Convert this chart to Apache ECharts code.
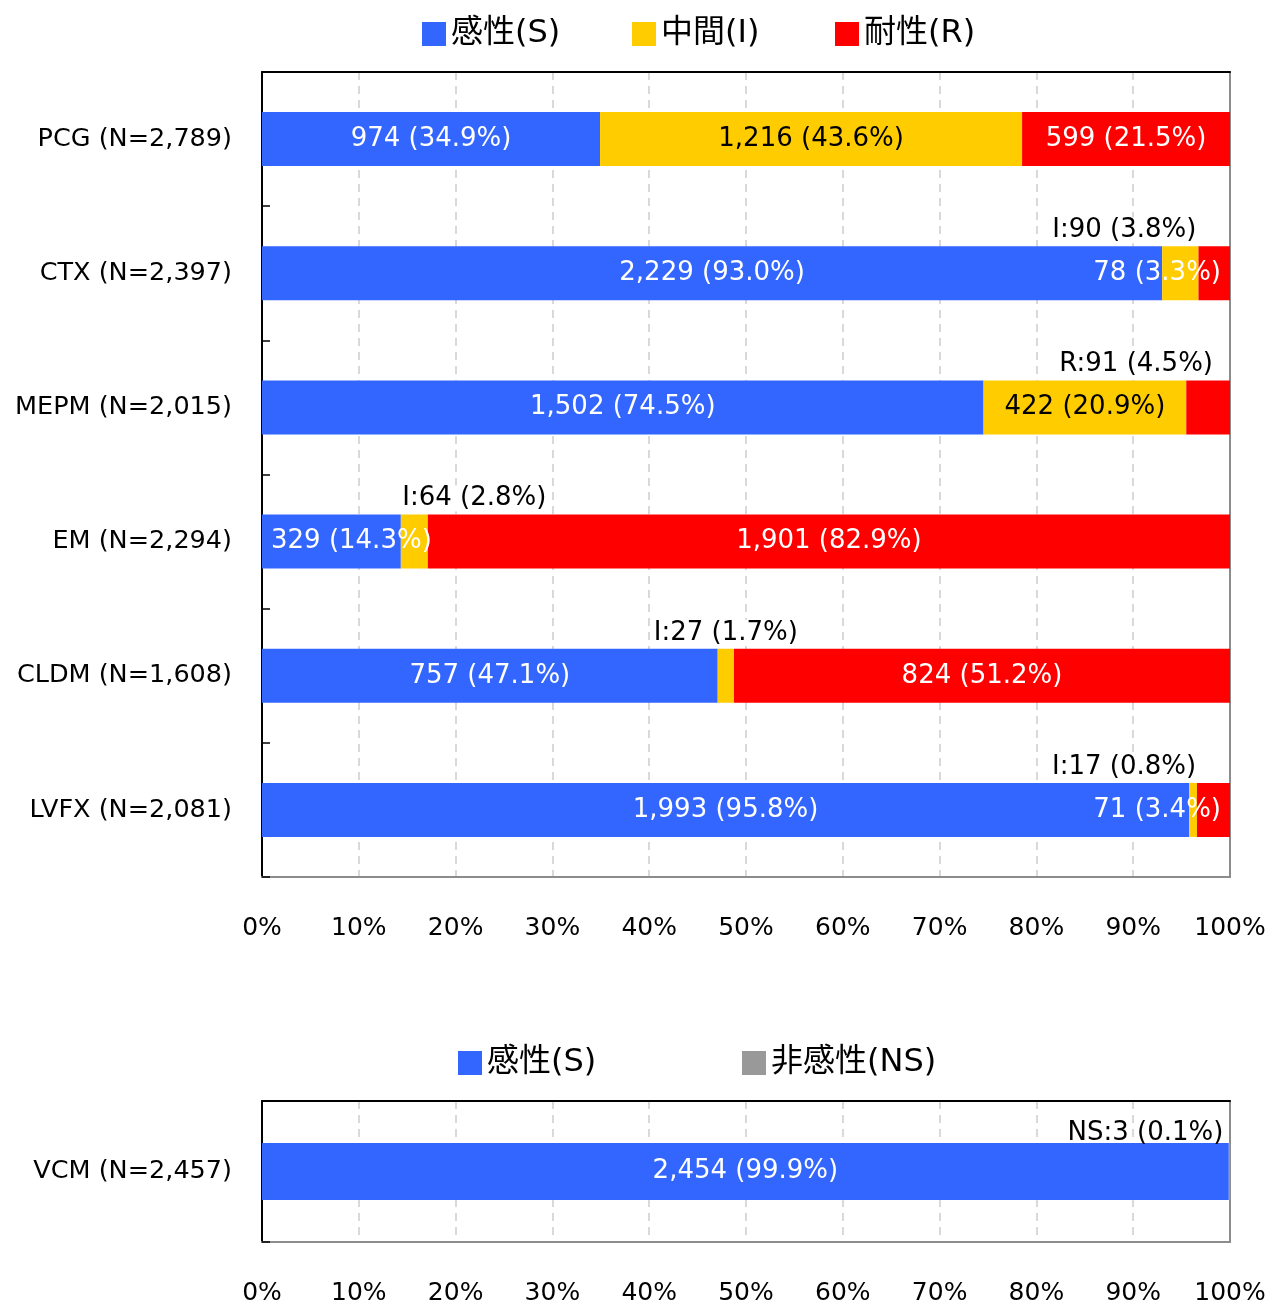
<!DOCTYPE html>
<html>
<head>
<meta charset="utf-8">
<script src="https://cdn.jsdelivr.net/npm/echarts@6/dist/echarts.min.js"></script>
<style>
html,body{margin:0;padding:0;background:#fff;}
#chart{width:1271px;height:1306px;}
</style>
</head>
<body>
<div id="chart"></div>
<script>
// ---- data ----
const categoriesTop = ['PCG (N=2,789)', 'CTX (N=2,397)', 'MEPM (N=2,015)', 'EM (N=2,294)', 'CLDM (N=1,608)', 'LVFX (N=2,081)'];
const totalsTop = [2789, 2397, 2015, 2294, 1608, 2081];
const sCounts = [974, 2229, 1502, 329, 757, 1993];
const sPcts   = [34.9, 93.0, 74.5, 14.3, 47.1, 95.8];
const iCounts = [1216, 90, 422, 64, 27, 17];
const iPcts   = [43.6, 3.8, 20.9, 2.8, 1.7, 0.8];
const rCounts = [599, 78, 91, 1901, 824, 71];
const rPcts   = [21.5, 3.3, 4.5, 82.9, 51.2, 3.4];

const categoriesBottom = ['VCM (N=2,457)'];
const totalsBottom = [2457];
const vcmSCounts = [2454];
const vcmSPcts = [99.9];
const vcmNSCounts = [3];
const vcmNSPcts = [0.1];

const xTickValues = [0, 10, 20, 30, 40, 50, 60, 70, 80, 90, 100];
const seriesNames = { S: '感性(S)', I: '中間(I)', R: '耐性(R)', NS: '非感性(NS)' };
const prefixes = { I: 'I:', R: 'R:', NS: 'NS:' };

// ---- styles / placement (not data) ----
const FONT = "'DejaVu Sans', 'Noto Sans CJK JP', sans-serif";
const COLORS = { S: '#3366FF', I: '#FFCC00', R: '#FF0000', NS: '#999999' };
const LABEL_SIZE = 26;
const placeTop = {
  S: ['c', 'c', 'c', 'left', 'c', 'c'],
  I: ['dark', 'top', 'dark', 'top', 'top', 'top'],
  R: ['c', 'right', 'top', 'c', 'c', 'right']
};
const topOffsets = {
  I: [0, -56, 0, 60, 0, -69],
  R: [0, 0, -72, 0, 0, 0]
};

function fmt(count, pct) {
  return count.toLocaleString('en-US') + ' (' + pct.toFixed(1) + '%)';
}

function labelFor(kind, text, offset, topDist, bg) {
  const base = { show: true, formatter: text, fontFamily: FONT, fontSize: LABEL_SIZE };
  if (kind === 'c') return Object.assign(base, { position: 'inside', color: '#fff' });
  if (kind === 'dark') return Object.assign(base, { position: 'inside', color: '#000' });
  if (kind === 'left') return Object.assign(base, { position: 'insideLeft', distance: 9, color: '#fff' });
  if (kind === 'right') return Object.assign(base, { position: 'insideRight', distance: 9, color: '#fff' });
  if (kind === 'top') return Object.assign(base, {
    position: 'top', distance: topDist, offset: [offset, 0], color: '#000',
    backgroundColor: bg ? '#fff' : 'transparent', padding: [0, 2]
  });
}

function buildData(key, counts, pcts, totals, places, offsets, topDist, bg) {
  return counts.map((c, i) => {
    const kind = places[i];
    const txt = kind === 'top' ? prefixes[key] + fmt(c, pcts[i]) : fmt(c, pcts[i]);
    return {
      value: c / totals[i] * 100,
      label: labelFor(kind, txt, offsets ? offsets[i] : 0, topDist, bg)
    };
  });
}

const axisCommonX = (gridIndex) => ([
  {
    type: 'value', gridIndex, min: 0, max: 100, interval: 10, position: 'bottom',
    axisLine: { show: true, onZero: false, lineStyle: { color: '#8c8c8c', width: 2 } },
    axisTick: { show: false },
    axisLabel: { formatter: '{value}%', fontFamily: FONT, fontSize: 25, color: '#000', margin: 39 },
    splitLine: { show: true, lineStyle: { color: '#d9d9d9', width: 2, type: [8, 6] } }
  },
  {
    type: 'value', gridIndex, min: 0, max: 100, interval: 10, position: 'top',
    axisLine: { show: true, onZero: false, lineStyle: { color: '#000', width: 2 } },
    axisTick: { show: false }, axisLabel: { show: false }, splitLine: { show: false }
  }
]);

const axisCommonY = (gridIndex, cats) => ([
  {
    type: 'category', gridIndex, data: cats, inverse: true, position: 'left',
    axisLine: { show: true, onZero: false, lineStyle: { color: '#000', width: 2 } },
    axisTick: { show: true, inside: true, length: 8, lineStyle: { color: '#000', width: 1.5 } },
    axisLabel: { fontFamily: FONT, fontSize: 25.5, color: '#000', margin: 30 },
    splitLine: { show: false }
  },
  {
    type: 'category', gridIndex, data: cats, inverse: true, position: 'right',
    axisLine: { show: true, onZero: false, lineStyle: { color: '#8c8c8c', width: 2 } },
    axisTick: { show: false }, axisLabel: { show: false }, splitLine: { show: false }
  }
]);

const legendText = { fontFamily: FONT, fontSize: 32, color: '#000' };
function legendItem(name, left, top) {
  return {
    data: [name], left, top, padding: 0, itemWidth: 24, itemHeight: 24, icon: 'rect',
    itemGap: 0, textStyle: legendText, selectedMode: false
  };
}

const option = {
  animation: false,
  backgroundColor: '#fff',
  legend: [
    legendItem(seriesNames.S, 422, 18),
    legendItem(seriesNames.I, 632, 18),
    legendItem(seriesNames.R, 835, 18),
    legendItem(seriesNames.S, 458, 1047),
    legendItem(seriesNames.NS, 742, 1047)
  ],
  grid: [
    { left: 262, width: 968, top: 72, height: 805 },
    { left: 262, width: 968, top: 1101, height: 146 }
  ],
  xAxis: axisCommonX(0).concat(axisCommonX(1)),
  yAxis: axisCommonY(0, categoriesTop).concat(axisCommonY(1, categoriesBottom)),
  series: [
    { name: seriesNames.S, type: 'bar', stack: 'top', xAxisIndex: 0, yAxisIndex: 0, barWidth: 54,
      itemStyle: { color: COLORS.S },
      data: buildData('S', sCounts, sPcts, totalsTop, placeTop.S, null, 3, true) },
    { name: seriesNames.I, type: 'bar', stack: 'top', xAxisIndex: 0, yAxisIndex: 0, barWidth: 54,
      itemStyle: { color: COLORS.I },
      data: buildData('I', iCounts, iPcts, totalsTop, placeTop.I, topOffsets.I, 3, true) },
    { name: seriesNames.R, type: 'bar', stack: 'top', xAxisIndex: 0, yAxisIndex: 0, barWidth: 54,
      itemStyle: { color: COLORS.R },
      data: buildData('R', rCounts, rPcts, totalsTop, placeTop.R, topOffsets.R, 3, true) },
    { name: seriesNames.S, type: 'bar', stack: 'bottom', xAxisIndex: 2, yAxisIndex: 2, barWidth: 57,
      itemStyle: { color: COLORS.S },
      data: buildData('S', vcmSCounts, vcmSPcts, totalsBottom, ['c'], null, -3, false) },
    { name: seriesNames.NS, type: 'bar', stack: 'bottom', xAxisIndex: 2, yAxisIndex: 2, barWidth: 57,
      itemStyle: { color: COLORS.NS },
      data: buildData('NS', vcmNSCounts, vcmNSPcts, totalsBottom, ['top'], [-84], -3, false) }
  ]
};

const chart = echarts.init(document.getElementById('chart'), null, { renderer: 'canvas' });
chart.setOption(option);
</script>
</body>
</html>
